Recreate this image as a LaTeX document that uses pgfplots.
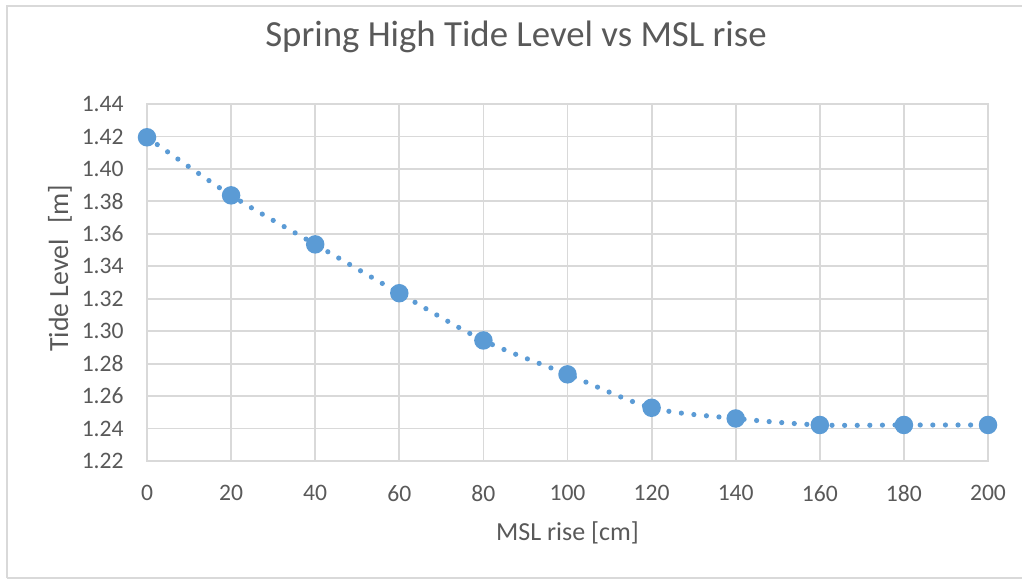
\documentclass[border=0pt]{standalone}
\usepackage{pgfplots}
\pgfplotsset{compat=1.18}
\usepackage{fontspec}
\setmainfont{Carlito}

\definecolor{txtgray}{HTML}{595959}
\definecolor{gridgray}{HTML}{D9D9D9}
\definecolor{frame}{HTML}{D9D9D9}
\definecolor{seriesblue}{HTML}{5B9BD5}

% MSL rise [cm] vs spring high tide level [m]
\pgfplotstableread{
rise level
0    1.4195
20   1.3837
40   1.3535
60   1.3234
80   1.2943
100  1.2734
120  1.2528
140  1.2462
160  1.2422
180  1.2422
200  1.2422
}\tidedata

\begin{document}
\begin{tikzpicture}
\useasboundingbox (0,0) rectangle (511pt,289.5pt);
% chart area border
\draw[frame, line width=0.6pt] (3.5pt,0.5pt) -- (3.5pt,286.5pt) -- (520pt,286.5pt);
\draw[frame, line width=0.6pt] (3.5pt,0.5pt) -- (520pt,0.5pt);
\begin{axis}[
  at={(73.5pt,59pt)}, anchor=south west,
  scale only axis,
  width=420.5pt, height=178.5pt,
  xmin=0, xmax=200, ymin=1.22, ymax=1.44,
  xtick={0,20,...,200},
  ytick={1.22,1.24,...,1.44},
  grid=major,
  grid style={draw=gridgray, line width=0.9pt},
  axis line style={draw=gridgray, line width=0.9pt},
  major tick length=0pt,
  tick style={draw=none},
  /pgf/number format/assume math mode=true,
  y tick label style={/pgf/number format/.cd, fixed, fixed zerofill, precision=2, /tikz/.cd},
  ticklabel style={font=\fontsize{11.8}{14}\selectfont, text=txtgray, inner sep=0pt},
  yticklabel style={xshift=-11.5pt},
  xticklabel style={yshift=-12pt},
  every axis title shift/.style={yshift=0pt},
  title={Spring High Tide Level vs MSL rise},
  title style={at={(axis description cs:0.4388,1.155)}, anchor=center,
               font=\fontsize{18.4}{22}\selectfont, text=txtgray},
  xlabel={MSL rise [cm]},
  xlabel style={at={(axis description cs:0.5,-0.2017)}, anchor=center,
                font=\fontsize{13}{15}\selectfont, text=txtgray},
  ylabel={Tide Level\hspace{0.55em}[m]},
  ylabel style={at={(axis description cs:-0.1034,0.54)}, anchor=center,
                font=\fontsize{13.9}{16}\selectfont, text=txtgray},
  clip=false,
]
\addplot[seriesblue, line width=2.6pt, line cap=round,
         dash pattern=on 0pt off 6.3pt,
         smooth, tension=0.5,
         mark=*, mark size=3.3pt,
         mark options={solid, fill=seriesblue, draw=none}]
  table[x=rise, y=level] {\tidedata};
\end{axis}
\end{tikzpicture}
\end{document}
